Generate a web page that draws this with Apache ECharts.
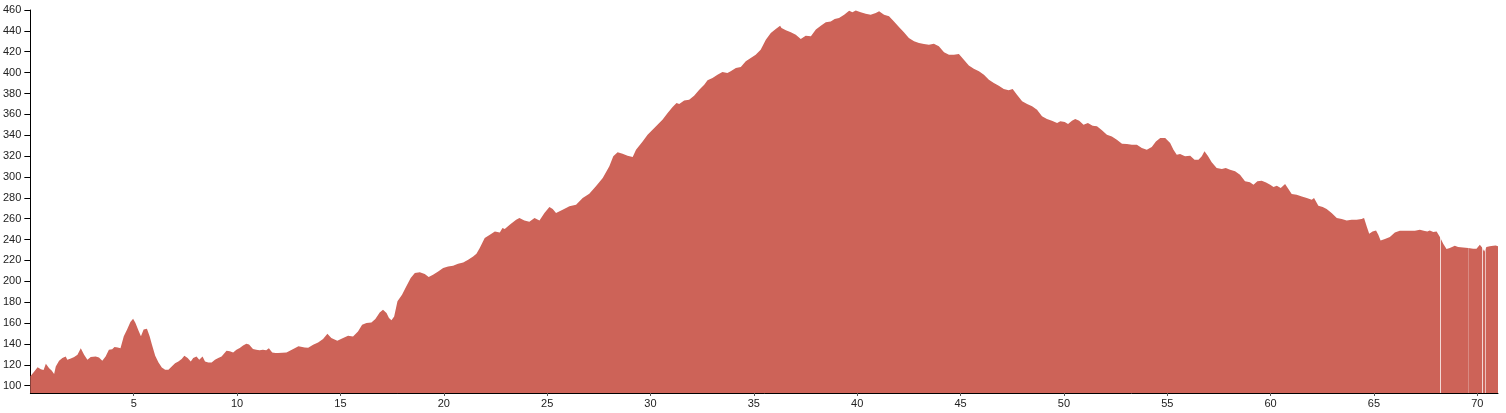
<!DOCTYPE html>
<html>
<head>
<meta charset="utf-8">
<script src="https://cdn.jsdelivr.net/npm/echarts@6/dist/echarts.min.js"></script>
<style>
  html, body { margin: 0; padding: 0; background: #fff; }
  #chart { width: 1506px; height: 413px; }
</style>
</head>
<body>
<div id="chart"></div>
<script>
// Distance along route (km)
const distKm = [
  0,0.19,0.35,0.51,0.64,0.75,0.91,1.03,1.15,1.23,1.39,1.55,1.71,1.79,1.96,2.12,2.28,2.44,2.60,2.76,
  2.92,3.16,3.32,3.48,3.64,3.80,3.96,4.07,4.23,4.36,4.52,4.68,4.84,4.97,5.08,5.24,5.35,5.48,5.64,5.77,
  5.88,6.04,6.20,6.36,6.52,6.68,6.84,7.00,7.16,7.32,7.45,7.61,7.76,7.88,8.04,8.17,8.33,8.45,8.61,8.77,
  8.93,9.09,9.25,9.33,9.49,9.65,9.81,9.97,10.13,10.29,10.45,10.58,10.77,10.93,11.09,11.25,11.41,11.54,11.70,11.86,
  11.98,12.39,12.65,12.97,13.27,13.44,13.68,13.92,14.16,14.37,14.56,14.85,15.13,15.37,15.61,15.85,16.05,16.26,16.50,16.69,
  16.90,17.06,17.23,17.35,17.47,17.60,17.76,17.98,18.19,18.40,18.60,18.84,19.08,19.27,19.48,19.73,19.97,20.21,20.45,20.69,
  20.94,21.18,21.42,21.58,21.74,21.98,22.23,22.47,22.71,22.84,22.95,23.19,
  23.50,23.66,23.90,24.14,24.39,24.63,24.87,25.11,25.27,25.43,25.75,26.08,26.40,26.72,27.04,27.36,27.69,28.01,28.20,28.41,
  28.65,28.89,29.14,29.30,29.62,29.86,30.10,30.34,30.58,30.83,31.07,31.26,31.39,31.63,31.87,32.11,32.36,32.60,32.76,33.00,
  33.24,33.48,33.72,33.88,34.13,34.37,34.61,34.85,35.09,35.33,
  35.58,35.82,36.06,36.27,36.34,36.55,36.79,37.03,37.27,37.51,37.76,38.00,38.24,38.48,38.72,38.91,39.12,39.37,39.61,39.77,
  39.93,40.17,40.41,40.65,40.90,41.06,41.30,41.54,41.78,42.02,42.26,42.50,42.75,42.99,43.23,43.47,43.71,43.95,44.20,44.44,
  44.68,44.92,45.16,45.40,45.64,45.89,46.13,46.37,46.61,46.85,47.09,
  47.33,47.52,47.73,47.98,48.22,48.46,48.70,48.94,49.18,49.42,49.67,49.83,50.04,50.20,50.39,50.55,50.74,50.95,51.16,51.39,
  51.60,51.84,52.08,52.32,52.56,52.81,53.05,53.29,53.53,53.77,54.01,54.25,54.45,54.66,54.90,55.14,55.30,55.46,55.62,55.86,
  56.11,56.32,56.51,56.67,56.80,56.96,57.15,57.39,57.64,57.83,58.04,58.28,58.52,58.76,59.00,
  59.17,59.36,59.57,59.78,59.98,60.14,60.30,60.49,60.70,60.86,61.02,61.26,61.51,61.75,61.99,62.10,62.31,62.52,62.71,62.95,
  63.20,63.44,63.68,63.92,64.16,64.40,64.52,64.65,64.77,64.93,65.10,65.21,65.32,65.53,65.77,66.01,66.25,66.49,66.74,66.98,
  67.22,67.41,67.58,67.70,67.87,68.03,68.19,68.35,68.51,68.67,68.91,69.07,69.31,69.56,69.80,69.96,70.12,70.25,70.33,70.44,
  70.60,70.77,70.89,71.0
];

// Elevation (m)
const elevM = [
  109,113.5,117.7,115.8,115,121,116.8,114.5,111.3,118.4,124,126.5,128,124.8,126,127.4,129.7,136,129.7,124.8,
  127.4,128,127,124,128,134.5,135,137,136.5,136,147.4,153.9,161,164.2,160.3,152.3,147.4,153.9,154.5,147.4,
  139.4,128.7,122.3,117.4,115.2,115.2,118.4,121.6,123.2,125.5,128.7,126.5,123.2,126.5,128,124.8,128,123.2,122.3,122.3,
  124.8,126.5,128,126.5,133.5,132.9,131.9,134.5,136.1,138.4,140.3,139.4,135.2,134.5,133.9,134.5,133.9,135.8,131.9,131.3,
  131.3,131.9,134.5,137.7,136.7,136.4,139.2,141.5,144.7,149.8,145.6,143.1,145.6,147.9,147.2,152.0,158.4,160.0,160.6,163.8,
  170.2,172.8,169.6,164.8,162.6,166.4,180.8,187.2,195.2,203.1,207.9,208.6,207.0,204.1,206.3,209.5,212.7,214.3,214.9,216.9,
  218.1,220.7,223.9,226.4,231.9,241.5,244.7,247.8,246.9,251.0,250.1,254.2,
  259.1,260.7,258.4,257.2,260.7,258.4,265.5,271.2,269.3,265.5,268.7,271.9,273.4,279.8,284.0,291.0,299.0,310.2,319.8,323.6,
  322.3,320.4,319.1,326.2,334.1,340.5,345.3,350.1,354.9,361.3,367.0,370.9,369.9,373.4,374.1,377.9,383.6,388.4,392.6,394.8,
  398.0,400.6,399.6,401.2,404.4,405.4,410.8,414.0,417.2,422.0,
  431.6,438.0,441.8,445.0,442.8,440.5,438.6,436.4,432.2,435.4,434.8,441.2,445.0,448.2,449.1,451.4,452.3,455.5,459.2,457.8,
  459.5,457.8,456.5,455.5,457.1,458.7,455.5,453.9,449.1,443.7,438.6,433.2,430.0,428.4,427.4,426.8,427.7,425.2,419.4,417.2,
  417.2,417.8,412.4,406.7,403.8,401.2,398.0,393.2,390.1,387.5,384.3,
  383.0,384.3,378.9,372.5,369.9,367.7,364.5,358.1,355.5,353.9,351.7,353.3,352.7,350.8,353.9,355.5,353.9,350.1,351.7,349.2,
  348.5,344.7,340.5,338.9,335.7,331.9,331.6,330.9,330.9,327.8,326.2,328.7,334.1,337.3,337.3,332.6,326.2,321.4,322.0,319.8,
  320.4,316.6,316.6,319.8,324.6,320.4,314.0,308.6,307.6,308.6,307.0,305.4,302.2,295.8,294.9,
  292.6,295.8,296.4,294.8,292.6,290.3,291.6,289.4,293.2,288.4,283.6,283.0,281.4,279.8,278.2,279.8,272.4,271.2,269.3,265.4,
  260.6,259.7,258.4,259.0,259.0,259.7,260.6,252.6,245.6,247.8,248.8,244.7,239.2,240.5,242.4,246.9,248.5,248.5,248.5,248.5,
  249.4,248.5,247.8,248.8,247.2,247.8,242.4,236.0,230.9,231.9,234.1,232.8,232.5,231.9,231.2,231.2,235.1,231.9,228.7,232.8,
  233.5,234.1,234.4,233.5
];

// Tick labels
const xTicks = [5,10,15,20,25,30,35,40,45,50,55,60,65,70];
const yTicks = [100,120,140,160,180,200,220,240,260,280,300,320,340,360,380,400,420,440,460];

// Thin seams visible in the profile near the end (km)
const seamsKm = [68.20, 69.56, 70.23, 70.39];
const seamAlpha = [0.75, 0.25, 0.75, 0.6];

const AREA = '#cd6358';
const chart = echarts.init(document.getElementById('chart'), null, { renderer: 'canvas' });

const data = distKm.map((d, i) => [d, elevM[i]]);

const axisText = { color: '#222', fontSize: 11, fontFamily: 'Liberation Sans, Arial, sans-serif' };

chart.setOption({
  animation: false,
  backgroundColor: '#fff',
  grid: { left: 28, right: 8, top: 10, bottom: 20, containLabel: false },
  xAxis: {
    type: 'value',
    min: 0,
    max: 71.0,
    splitLine: { show: false },
    axisLine: { show: true, onZero: false, lineStyle: { color: '#000', width: 1 } },
    axisTick: { show: true, inside: false, length: 3, customValues: xTicks, lineStyle: { color: '#555' } },
    axisLabel: Object.assign({ margin: 5, customValues: xTicks }, axisText)
  },
  yAxis: {
    type: 'value',
    min: 93,
    max: 460,
    splitLine: { show: false },
    axisLine: { show: true, lineStyle: { color: '#000', width: 1 } },
    axisTick: { show: true, inside: false, length: 6, customValues: yTicks, lineStyle: { color: '#000' } },
    axisLabel: Object.assign({ margin: 9, customValues: yTicks }, axisText)
  },
  series: [{
    type: 'line',
    data: data,
    showSymbol: false,
    symbol: 'none',
    smooth: false,
    lineStyle: { width: 0, color: AREA },
    itemStyle: { color: AREA },
    areaStyle: { color: AREA, opacity: 1, origin: 'start' },
    markLine: {
      silent: true,
      symbol: ['none', 'none'],
      label: { show: false },
      data: seamsKm.map((x, i) => ({
        xAxis: x,
        lineStyle: { color: 'rgba(255,255,255,' + seamAlpha[i] + ')', width: 1, type: 'solid' }
      }))
    }
  }]
});
</script>
</body>
</html>
